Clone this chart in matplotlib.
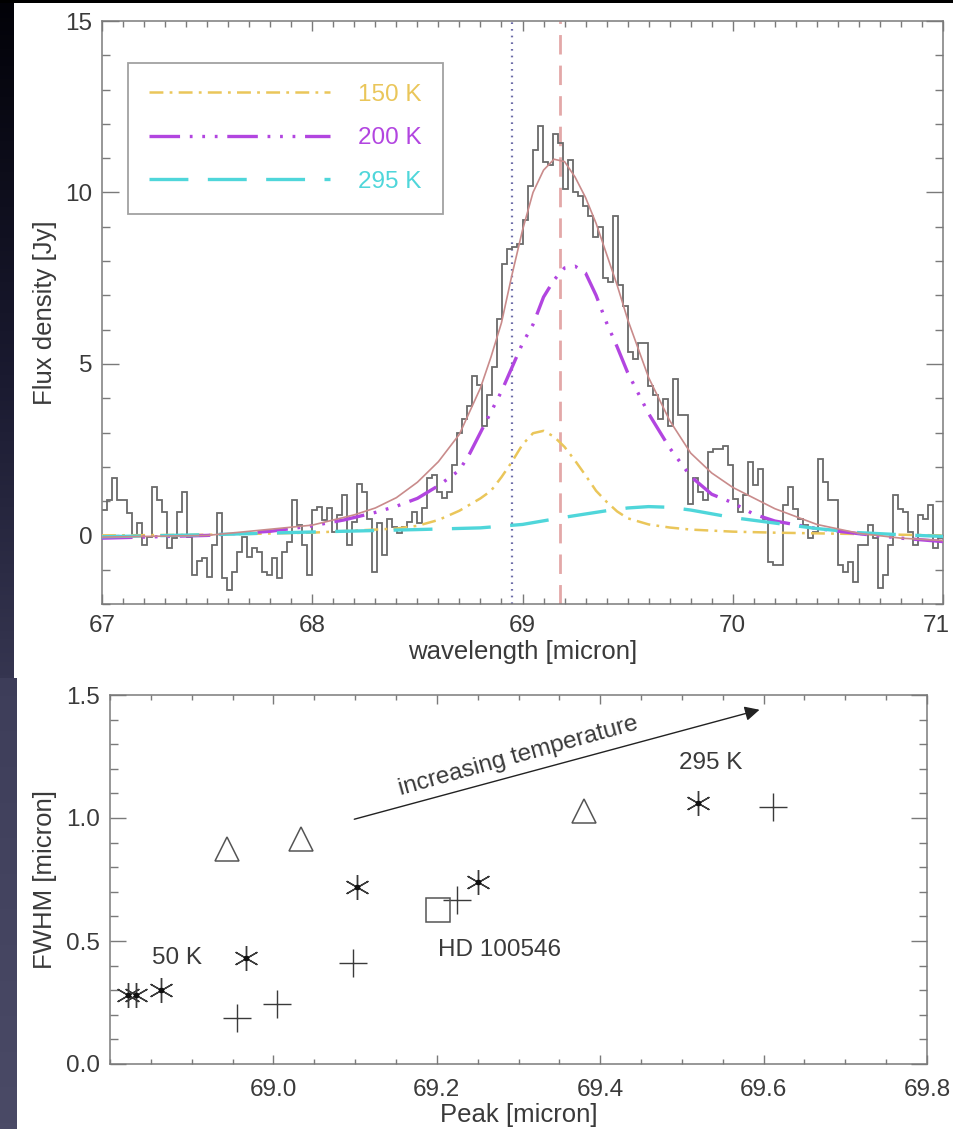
import numpy as np
import matplotlib
matplotlib.use("Agg")
import matplotlib.pyplot as plt
from matplotlib.ticker import MultipleLocator, FormatStrFormatter
from matplotlib.colors import LinearSegmentedColormap

plt.rcParams['font.family'] = ['Liberation Sans', 'DejaVu Sans']
plt.rcParams['lines.scale_dashes'] = False

# ---------------- data: spectrum (top panel) ----------------
flux_hist = [
    0.74, 1.02, 1.67, 1.02, 1.02, 0.64, 0.0, 0.35, -0.28, -0.04, 1.42, 1.02, 0.69, -0.38,
    -0.09, 0.69, 1.27, -0.04, -1.15, -0.76, -0.67, -1.2, -0.28, 0.64, -1.25, -1.59, -1.06,
    -0.48, -0.04, -0.62, -0.38, -0.48, -1.06, -1.15, -0.67, -1.25, -0.48, -0.19, 1.02, 0.29,
    -0.28, -1.15,
    0.74, 0.83, 0.45, 0.79, 0.1, 0.59, 1.17, -0.28, 0.39, 1.51, 1.27, 0.49, -1.06, 0.35,
    -0.57, 0.49, 0.25, 0.06, 0.25, 0.39, 0.69, 0.35, 0.79, 1.66, 1.75, 1.27, 1.08, 1.27,
    2.04, 3.0, 3.39, 3.78, 4.65, 4.4, 3.2, 4.1, 4.9, 6.3, 7.9, 8.35, 8.4, 8.5,
    9.2, 10.2, 11.25, 11.95, 10.9, 10.8, 11.7, 11.45, 10.1, 10.95, 10.0, 9.9, 9.6, 9.3,
    8.7, 9.0, 7.5, 7.4, 9.3, 7.3, 6.7, 5.34, 5.15, 5.6, 5.6, 4.37, 4.08, 3.4, 3.98, 3.2,
    4.56, 3.5, 3.5, 0.93, 1.66, 1.27, 1.02, 2.43, 2.52, 2.52, 2.62, 2.04,
    1.07, 0.69, 1.17, 2.14, 1.46, 1.94, 0.49, -0.77, -0.87, -0.87, 0.88, 1.41, 0.78, 0.49,
    0.3, -0.09, 0.1, 2.24, 1.56, 1.02, 1.02, -0.87, -1.06, -0.77, -1.35, -0.28, -0.28, 0.3,
    -0.09, -1.54, -1.15, -0.28, 1.17, 0.78, 0.69, 0.1, -0.28, 0.59, 0.49, 0.88, -0.38, -0.09,
]
wl_start, wl_end = 67.0, 71.0
top_xticks = [67, 68, 69, 70, 71]
top_xticklabels = ['67', '68', '69', '70', '71']

total_wl = [67.0, 67.5, 68.0, 68.2, 68.3, 68.4, 68.5, 68.6, 68.7, 68.8, 68.85, 68.9, 68.95,
            69.0, 69.05, 69.1, 69.15, 69.2, 69.25, 69.3, 69.35, 69.4, 69.45, 69.5, 69.6,
            69.7, 69.8, 69.9, 70.0, 70.2, 70.4, 70.6, 70.8, 71.0]
total_flux = [-0.05, 0.0, 0.3, 0.6, 0.8, 1.1, 1.55, 2.15, 2.95, 4.3, 5.2, 6.2, 7.6,
              8.9, 10.0, 10.65, 10.97, 10.9, 10.45, 9.85, 9.1, 8.2, 7.3, 6.3, 4.6,
              3.35, 2.4, 1.82, 1.4, 0.78, 0.32, 0.06, -0.08, -0.15]

k200_wl = [67.0, 67.5, 67.8, 68.0, 68.15, 68.3, 68.4, 68.5, 68.6, 68.7, 68.75, 68.85, 68.9,
           68.95, 69.0, 69.05, 69.1, 69.15, 69.2, 69.25, 69.3, 69.35, 69.4, 69.45, 69.5,
           69.6, 69.7, 69.8, 69.9, 70.0, 70.1, 70.2, 70.4, 70.6, 70.8, 71.0]
k200_flux = [-0.08, 0.0, 0.12, 0.28, 0.45, 0.67, 0.85, 1.08, 1.45, 1.9, 2.4, 3.6, 4.2,
             4.9, 5.6, 6.15, 6.95, 7.45, 7.8, 7.85, 7.65, 7.0, 6.2, 5.5, 4.75,
             3.55, 2.55, 1.72, 1.2, 0.95, 0.62, 0.42, 0.2, 0.05, -0.08, -0.18]

k150_wl = [67.0, 67.5, 68.0, 68.2, 68.4, 68.5, 68.6, 68.7, 68.8, 68.85, 68.9, 68.95, 69.0,
           69.05, 69.1, 69.15, 69.2, 69.25, 69.3, 69.35, 69.4, 69.45, 69.5, 69.6, 69.7,
           69.8, 70.0, 70.2, 70.4, 70.6, 70.8, 71.0]
k150_flux = [0.0, 0.02, 0.08, 0.14, 0.2, 0.28, 0.45, 0.72, 1.08, 1.3, 1.7, 2.15, 2.65,
             2.98, 3.05, 2.88, 2.58, 2.18, 1.75, 1.3, 0.98, 0.7, 0.5, 0.32, 0.23,
             0.17, 0.11, 0.08, 0.06, 0.04, 0.02, 0.0]

k295_wl = [67.0, 67.5, 68.0, 68.5, 68.8, 69.0, 69.2, 69.4, 69.5, 69.6, 69.7, 69.8, 69.9,
           70.0, 70.2, 70.4, 70.6, 70.8, 71.0]
k295_flux = [-0.04, 0.02, 0.1, 0.17, 0.22, 0.32, 0.53, 0.72, 0.8, 0.84, 0.82, 0.74, 0.63,
             0.52, 0.36, 0.2, 0.08, 0.02, -0.03]

lab_line = 68.948      # dotted vertical line
obs_peak = 69.18       # dashed vertical line

legend_labels = ['150 K', '200 K', '295 K']

# ---------------- data: FWHM vs peak (bottom panel) ----------------
ast_peak = [68.822, 68.832, 68.863, 68.967, 69.102, 69.251, 69.52]
ast_fwhm = [0.28, 0.28, 0.30, 0.43, 0.72, 0.74, 1.06]
plus_peak = [68.956, 69.005, 69.097, 69.225, 69.612]
plus_fwhm = [0.185, 0.245, 0.41, 0.665, 1.045]
tri_peak = [68.943, 69.034, 69.38]
tri_fwhm = [0.875, 0.915, 1.03]
sq_peak = [69.202]
sq_fwhm = [0.628]
bottom_xticks = [69.0, 69.2, 69.4, 69.6, 69.8]

# ---------------- figure ----------------
W, H = 954, 1129
fig = plt.figure(figsize=(W / 100, H / 100), dpi=100, facecolor='white')

# dark slide background strips
grad = np.linspace(0, 1, 256).reshape(-1, 1)
cmap_bg = LinearSegmentedColormap.from_list('bg', ['#020208', '#1a1a30', '#3c3c58', '#4a4a66'])
bg_ax = fig.add_axes([0, 0, 14 / W, 1])
bg_ax.imshow(grad, aspect='auto', cmap=cmap_bg, extent=[0, 1, 1, 0])
bg_ax.axis('off')
bg_ax2 = fig.add_axes([0, 0, 17 / W, 451 / H])
bg_ax2.imshow(grad[180:], aspect='auto', cmap=cmap_bg, vmin=0, vmax=1, extent=[0, 1, 1, 0])
bg_ax2.axis('off')
top_ax = fig.add_axes([0, 1 - 3 / H, 1, 3 / H])
top_ax.set_facecolor('#000000')
top_ax.set_xticks([]); top_ax.set_yticks([])
for s in top_ax.spines.values():
    s.set_visible(False)

txt_col = '#3a3a3a'
spine_col = '#7a7a7a'
tick_fs = 17.5
lab_fs = 18.5


def style_axes(ax, xmaj_len, xmin_len, ymaj_len, ymin_len, xpad):
    for s in ax.spines.values():
        s.set_color(spine_col)
        s.set_linewidth(1.1)
    ax.tick_params(which='both', direction='in', top=True, right=True,
                   color=spine_col, width=1.0, labelcolor=txt_col, labelsize=tick_fs)
    ax.tick_params(axis='x', which='major', length=xmaj_len, pad=xpad)
    ax.tick_params(axis='x', which='minor', length=xmin_len)
    ax.tick_params(axis='y', which='major', length=ymaj_len, pad=7)
    ax.tick_params(axis='y', which='minor', length=ymin_len)


# ---------------- top panel ----------------
ax1 = fig.add_axes([102 / W, 1 - 604 / H, 841 / W, 583 / H])
edges = np.linspace(wl_start, wl_end, len(flux_hist) + 1)
ax1.stairs(flux_hist, edges, baseline=None, color='#6a6a6a', linewidth=1.3, zorder=2)

c150, c200, c295 = '#eac65a', '#b245e0', '#4fd6da'
ax1.axvline(lab_line, color='#6c6ca8', linewidth=1.6, linestyle=(0, (1.2, 3.6)), zorder=1)
ax1.axvline(obs_peak, color='#e3a8a8', linewidth=2.0, linestyle=(0, (14, 8)), zorder=1)

l150, = ax1.plot(k150_wl, k150_flux, color=c150, linewidth=1.8,
                 linestyle=(0, (10, 4.5, 2, 4.5)), zorder=3)
l200, = ax1.plot(k200_wl, k200_flux, color=c200, linewidth=2.4,
                 linestyle=(0, (22, 7, 2, 7, 2, 7, 2, 7)), zorder=3)
l295, = ax1.plot(k295_wl, k295_flux, color=c295, linewidth=2.4,
                 linestyle=(0, (28, 14)), zorder=3)
ax1.plot(total_wl, total_flux, color='#c98b8b', linewidth=1.2, zorder=4)

ax1.set_xlim(wl_start, wl_end)
ax1.set_ylim(-2, 15)
ax1.set_xticks(top_xticks)
# last label drawn separately (shifted slightly left so it stays inside the figure)
ax1.set_xticklabels(top_xticklabels[:-1] + [''])
ax1.xaxis.set_minor_locator(MultipleLocator(0.1))
ax1.yaxis.set_major_locator(MultipleLocator(5))
ax1.yaxis.set_minor_locator(MultipleLocator(1))
style_axes(ax1, 7.2, 4.3, 12.2, 5.8, 8)
ax1.annotate(top_xticklabels[-1], xy=(top_xticks[-1], 0), xycoords=('data', 'axes fraction'),
             xytext=(-5, -8), textcoords='offset points', ha='center', va='top',
             fontsize=tick_fs, color=txt_col, annotation_clip=False)
ax1.set_xlabel('wavelength [micron]', fontsize=lab_fs, color=txt_col, labelpad=2)
ax1.set_ylabel('Flux density [Jy]', fontsize=lab_fs, color=txt_col, labelpad=6)

leg = ax1.legend([l150, l200, l295], legend_labels, loc='upper left',
                 bbox_to_anchor=(0.031, 0.928), borderaxespad=0, fontsize=tick_fs,
                 frameon=True, fancybox=False, handlelength=7.45, handletextpad=1.15,
                 labelspacing=0.88, borderpad=0.86, labelcolor=[c150, c200, c295])
leg.get_frame().set_edgecolor('#8a8a8a')
leg.get_frame().set_linewidth(1.3)

# ---------------- bottom panel ----------------
ax2 = fig.add_axes([110 / W, 1 - 1064 / H, 817 / W, 369 / H])
mk_col = '#3a3a3a'
ax2.plot(ast_peak, ast_fwhm, linestyle='none', marker=(6, 2, 0), markersize=18,
         markeredgecolor=mk_col, markeredgewidth=1.0, color=mk_col)
ax2.plot(ast_peak, ast_fwhm, linestyle='none', marker='o', markersize=3, color='#111111')
ax2.plot(plus_peak, plus_fwhm, linestyle='none', marker='+', markersize=20,
         markeredgecolor=mk_col, markeredgewidth=1.0)
ax2.plot(tri_peak, tri_fwhm, linestyle='none', marker='^', markersize=17,
         markerfacecolor='none', markeredgecolor='#555555', markeredgewidth=1.1)
ax2.plot(sq_peak, sq_fwhm, linestyle='none', marker='s', markersize=17,
         markerfacecolor='none', markeredgecolor='#555555', markeredgewidth=1.1)

ax2.annotate('', xy=(69.595, 1.44), xytext=(69.099, 0.995),
             arrowprops=dict(arrowstyle='-|>', color='#222222', lw=1.0,
                             mutation_scale=22, shrinkA=0, shrinkB=0))
ax2.text(69.300, 1.25, 'increasing temperature', rotation=15.5, rotation_mode='anchor',
         ha='center', va='center', fontsize=tick_fs, color=txt_col)
ax2.text(68.882, 0.43, '50 K', ha='center', va='center', fontsize=tick_fs, color=txt_col)
ax2.text(69.202, 0.463, 'HD 100546', ha='left', va='center', fontsize=tick_fs, color=txt_col)
ax2.text(69.535, 1.224, '295 K', ha='center', va='center', fontsize=tick_fs, color=txt_col)

ax2.set_xlim(68.8, 69.8)
ax2.set_ylim(0, 1.5)
ax2.set_xticks(bottom_xticks)
ax2.xaxis.set_major_formatter(FormatStrFormatter('%.1f'))
ax2.xaxis.set_minor_locator(MultipleLocator(0.05))
ax2.yaxis.set_major_locator(MultipleLocator(0.5))
ax2.yaxis.set_minor_locator(MultipleLocator(0.1))
ax2.yaxis.set_major_formatter(FormatStrFormatter('%.1f'))
style_axes(ax2, 6.5, 3.5, 11.5, 5.8, 11)
ax2.set_xlabel('Peak [micron]', fontsize=lab_fs, color=txt_col, labelpad=1)
ax2.set_ylabel('FWHM [micron]', fontsize=lab_fs, color=txt_col, labelpad=7)

fig.savefig('out.png', dpi=100, facecolor='white')
